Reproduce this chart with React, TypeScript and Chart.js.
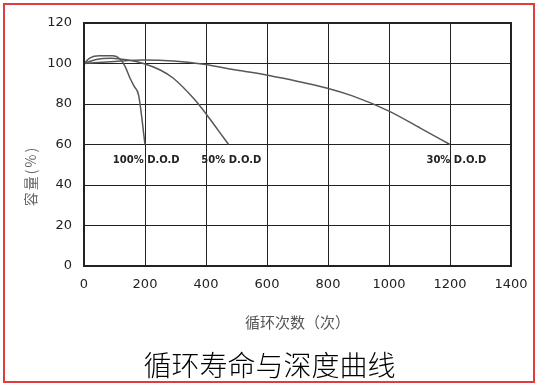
import React, { useEffect, useRef } from "react";
import { Chart, registerables } from "chart.js";

Chart.register(...registerables);

// ---- data ----
const xTicks = [0, 200, 400, 600, 800, 1000, 1200, 1400];
const yTicks = [0, 20, 40, 60, 80, 100, 120];

const cycles100 = [0, 20, 50, 95, 118, 135, 151, 165, 179, 200];
const cap100 = [100, 102.8, 103.8, 103.8, 102.2, 98.5, 92.7, 88.6, 84.4, 60];

const cycles50 = [0, 40, 90, 140, 195, 250, 293, 359, 403, 440, 474];
const cap50 = [100, 102, 102.6, 101.8, 100, 96.8, 92.7, 82.8, 74.6, 67, 60];

const cycles30 = [0, 100, 195, 293, 392, 500, 611, 666, 798, 880, 1000, 1104, 1200];
const cap30 = [100, 101, 101.7, 101.2, 99.6, 96.8, 94, 92.3, 87.8, 84, 76.5, 68, 60];

const seriesNames = ["100% D.O.D", "50% D.O.D", "30% D.O.D"];
const labelCycles = [204, 483, 1221];
const labelCap = 52.2;

const chartTitle = "循环寿命与深度曲线";
const xTitle = "循环次数（次）";
const yTitle = "容量(%)";

const toPoints = (xs: number[], ys: number[]) => xs.map((x, i) => ({ x, y: ys[i] }));

export default function App() {
  const ref = useRef<HTMLCanvasElement | null>(null);

  useEffect(() => {
    document.body.style.margin = "0";
    const canvas = ref.current;
    if (!canvas) return;

    const lineStyle = {
      borderColor: "#585858",
      borderWidth: 1.5,
      pointRadius: 0,
      fill: false,
      cubicInterpolationMode: "monotone" as const,
    };

    const overlay = {
      id: "overlay",
      afterDraw(chart: any) {
        const { ctx, chartArea, scales } = chart;
        ctx.save();
        ctx.strokeStyle = "#222";
        ctx.lineWidth = 2;
        ctx.strokeRect(chartArea.left, chartArea.top, chartArea.right - chartArea.left, chartArea.bottom - chartArea.top);
        ctx.fillStyle = "#222";
        ctx.font = "bold 10px 'DejaVu Sans'";
        ctx.textAlign = "center";
        ctx.textBaseline = "middle";
        seriesNames.forEach((name, i) => {
          const x = scales.x.getPixelForValue(labelCycles[i]);
          const y = scales.y.getPixelForValue(labelCap);
          ctx.fillText(name, x, y);
        });
        ctx.translate(31, 176);
        ctx.rotate(-Math.PI / 2);
        ctx.fillStyle = "#666";
        ctx.font = "14px 'Noto Sans CJK SC'";
        try { (ctx as any).letterSpacing = "2px"; } catch (e) {}
        ctx.fillText(yTitle, 0, 0);
        ctx.restore();
      },
    };

    const tickFont = { family: "'DejaVu Sans'", size: 13 };

    const chart = new Chart(canvas, {
      type: "line",
      data: {
        datasets: [
          { label: seriesNames[0], data: toPoints(cycles100, cap100), ...lineStyle },
          { label: seriesNames[1], data: toPoints(cycles50, cap50), ...lineStyle },
          { label: seriesNames[2], data: toPoints(cycles30, cap30), ...lineStyle },
        ],
      },
      options: {
        animation: false,
        responsive: false,
        maintainAspectRatio: false,
        layout: { padding: { left: 0, top: 23, right: 0, bottom: 0 } },
        plugins: {
          legend: { display: false },
          tooltip: { enabled: false },
          title: {
            display: true,
            text: chartTitle,
            position: "bottom",
            color: "#000",
            font: { family: "'Noto Sans CJK SC'", size: 28, weight: "300", lineHeight: 1.2 },
            padding: { top: 0, bottom: 4 },
          },
        },
        scales: {
          x: {
            type: "linear",
            min: xTicks[0],
            max: xTicks[xTicks.length - 1],
            afterBuildTicks: (scale: any) => {
              scale.ticks = xTicks.map((v) => ({ value: v }));
            },
            afterFit: (scale: any) => {
              scale.height = 82.4;
            },
            grid: { color: "#222", lineWidth: 1, drawTicks: false },
            border: { display: false },
            ticks: {
              padding: 11,
              color: "#222",
              font: tickFont,
              maxRotation: 0,
              callback: (v: any) => String(v),
            },
            title: {
              display: true,
              text: xTitle,
              color: "#555",
              font: { family: "'Noto Sans CJK SC'", size: 15, lineHeight: 1.2 },
              padding: { top: 0, bottom: 17.4 },
            },
          },
          y: {
            type: "linear",
            min: yTicks[0],
            max: yTicks[yTicks.length - 1],
            afterBuildTicks: (scale: any) => {
              scale.ticks = yTicks.map((v) => ({ value: v }));
            },
            afterFit: (scale: any) => {
              scale.width = 84;
            },
            grid: { color: "#222", lineWidth: 1, drawTicks: false },
            border: { display: false },
            ticks: {
              padding: 12,
              color: "#222",
              font: tickFont,
              callback: (v: any) => String(v),
            },
          },
          yRight: {
            type: "linear",
            position: "right",
            min: yTicks[0],
            max: yTicks[yTicks.length - 1],
            grid: { display: false, drawTicks: false },
            border: { display: false },
            ticks: { display: false },
            afterFit: (scale: any) => {
              scale.width = 28;
            },
          },
        },
      },
      plugins: [overlay],
    } as any);

    return () => chart.destroy();
  }, []);

  return (
    <div style={{ position: "relative", width: 539, height: 386, background: "#fff" }}>
      <canvas ref={ref} width={539} height={386} style={{ position: "absolute", left: 0, top: 0 }} />
      <div
        style={{
          position: "absolute",
          left: 3,
          top: 3,
          width: 528,
          height: 376,
          border: "2px solid #e23b3b",
          pointerEvents: "none",
        }}
      />
    </div>
  );
}
